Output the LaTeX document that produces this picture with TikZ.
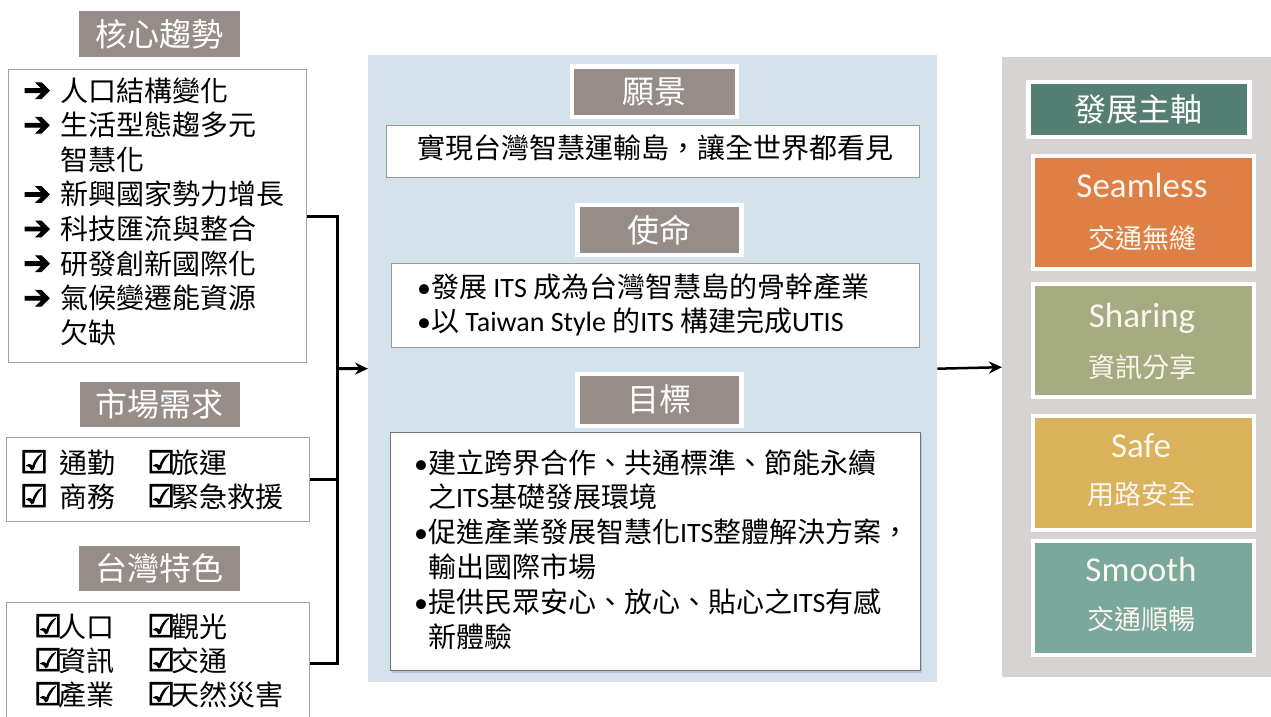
\documentclass[tikz,border=0pt]{standalone}
\usepackage{fontspec}
\setmainfont{Noto Sans CJK TC}
\newfontfamily\lat{Carlito}
\newfontfamily\symb{DejaVu Sans}[FakeBold=3]
\usetikzlibrary{arrows.meta,shadows}
\definecolor{ttlgray}{HTML}{968C88}
\definecolor{midbg}{HTML}{D4E2EC}
\definecolor{rightbg}{HTML}{D7D3D2}
\definecolor{framegray}{HTML}{A6A09E}
\definecolor{tealttl}{HTML}{567F74}
\definecolor{cseam}{HTML}{DE8045}
\definecolor{cshare}{HTML}{A5AC81}
\definecolor{csafe}{HTML}{D9B25B}
\definecolor{csmooth}{HTML}{7AA89B}
\definecolor{softwhite}{HTML}{FBF6EE}
\newcommand{\bodyfont}{\fontsize{28}{34.6}\selectfont}
\newcommand{\ttlfont}{\fontsize{32}{36}\selectfont}
\newcommand{\arr}{\makebox[37pt][l]{\symb\fontsize{33}{30}\selectfont ➔}}
\newcommand{\chk}[1]{\makebox[#1][l]{\symb\fontsize{31}{30}\selectfont ☑}}
\begin{document}
\begin{tikzpicture}[x=1pt,y=-1pt,
  frame/.style={rectangle, draw=framegray, line width=1.2pt, fill=white, inner sep=0pt, anchor=north west},
  ttl/.style={rectangle, fill=ttlgray, draw=white, line width=4.5pt, text=white, inner sep=0pt, anchor=north west, font=\ttlfont,
     drop shadow={shadow xshift=1pt, shadow yshift=-2pt, opacity=.25}},
  axisbox/.style={rectangle, draw=white, line width=4pt, inner sep=0pt, anchor=north west},
  body/.style={inner sep=0pt, font=\bodyfont, text=black},
  en/.style={inner sep=0pt, anchor=base, text=softwhite, font=\lat\fontsize{35}{40}\selectfont},
  zh/.style={inner sep=0pt, anchor=base, text=softwhite, font=\fontsize{27}{32}\selectfont},
  conn/.style={line width=3pt, black},
  tip/.style={-{Stealth[length=13pt,width=12pt]}}
]
\useasboundingbox (0,0) rectangle (1271,717);
\fill[white] (0,0) rectangle (1271,717);

% panels
\node[rectangle, fill=midbg, inner sep=0pt, anchor=north west, minimum width=569pt, minimum height=627pt] (mid) at (368,55) {};
\node[rectangle, fill=rightbg, inner sep=0pt, anchor=north west, minimum width=280pt, minimum height=620pt] (right) at (1002,57) {};

% left column
\node[ttl, minimum width=165pt, minimum height=51pt] (t1) at (74.5,6.5) {核心趨勢};
\node[frame, minimum width=298pt, minimum height=293pt] (b1) at (8,69) {};
\node[body, anchor=base west] (b1txt) at (23,101) {\begin{tabular}[t]{@{}l@{}l@{}}
\arr&人口結構變化\\
\arr&生活型態趨多元\\
&智慧化\\
\arr&新興國家勢力增長\\
\arr&科技匯流與整合\\
\arr&研發創新國際化\\
\arr&氣候變遷能資源\\
&欠缺
\end{tabular}};

\node[ttl, minimum width=164pt, minimum height=49pt] (t2) at (75.5,377.5) {市場需求};
\node[frame, minimum width=303pt, minimum height=84pt] (b2) at (6,437) {};
\node[body, anchor=base west, font=\fontsize{28}{34}\selectfont] (b2txt) at (20,473) {\begin{tabular}[t]{@{}p{127pt}@{}l@{}}
\chk{39pt}通勤&\chk{24pt}旅運\\
\chk{39pt}商務&\chk{24pt}緊急救援
\end{tabular}};

\node[ttl, minimum width=165pt, minimum height=49.5pt] (t3) at (74.5,541) {台灣特色};
\node[frame, minimum width=303pt, minimum height=122pt] (b3) at (6,602) {};
\node[body, anchor=base west, font=\fontsize{28}{34}\selectfont] (b3txt) at (34,637) {\begin{tabular}[t]{@{}p{113pt}@{}l@{}}
\chk{24pt}人口&\chk{24pt}觀光\\
\chk{24pt}資訊&\chk{24pt}交通\\
\chk{24pt}產業&\chk{24pt}天然災害
\end{tabular}};

% middle column
\node[ttl, minimum width=165pt, minimum height=50pt] (t4) at (569.5,64.5) {願景};
\node[frame, draw=gray!80, minimum width=533pt, minimum height=52pt] (vis) at (386,125) {};
\node[body, anchor=base] (vistxt) at (655,158) {實現台灣智慧運輸島，讓全世界都看見};

\node[ttl, minimum width=164pt, minimum height=50pt] (t5) at (575,202.5) {使命};
\node[frame, draw=gray!80, minimum width=528pt, minimum height=84pt] (mis) at (391,263) {};
\node[body, anchor=base west] (mistxt) at (417,297) {\begin{tabular}[t]{@{}l@{}l@{}}
{\lat •}&發展 {\lat ITS} 成為台灣智慧島的骨幹產業\\
{\lat •}&以 {\lat Taiwan Style} 的{\lat ITS} 構建完成{\lat UTIS}
\end{tabular}};

\node[ttl, minimum width=164pt, minimum height=52pt] (t6) at (575,371.5) {目標};
\node[frame, draw=gray!90!black, minimum width=530pt, minimum height=238pt,
  drop shadow={shadow xshift=1.5pt, shadow yshift=-2.5pt, opacity=.3}] (goa) at (390,432) {};
\node[body, anchor=base west, font=\fontsize{28}{34.8}\selectfont] (goatxt) at (414,473) {\begin{tabular}[t]{@{}l@{}l@{}}
{\lat •}&建立跨界合作、共通標準、節能永續\\
&之{\lat ITS}基礎發展環境\\
{\lat •}&促進產業發展智慧化{\lat ITS}整體解決方案，\\
&輸出國際市場\\
{\lat •}&提供民眾安心、放心、貼心之{\lat ITS}有感\\
&新體驗
\end{tabular}};

% right column
\node[ttl, fill=tealttl, minimum width=221pt, minimum height=55pt] (t7) at (1026,79.5) {發展主軸};
\node[axisbox, fill=cseam, minimum width=221pt, minimum height=113pt] (seam) at (1031,154) {};
\node[en] (seamen) at (1142,197) {Seamless};
\node[zh] (seamzh) at (1142,248) {交通無縫};
\node[axisbox, fill=cshare, minimum width=221pt, minimum height=113pt] (share) at (1031,282) {};
\node[en] (shareen) at (1142,327) {Sharing};
\node[zh] (sharezh) at (1142,377) {資訊分享};
\node[axisbox, fill=csafe, minimum width=221pt, minimum height=114pt,
  drop shadow={shadow xshift=1pt, shadow yshift=-2pt, opacity=.3}] (safe) at (1030.5,413.5) {};
\node[en] (safeen) at (1141,457) {Safe};
\node[zh] (safezh) at (1141,504) {用路安全};
\node[axisbox, fill=csmooth, minimum width=221pt, minimum height=114pt] (smooth) at (1031,539) {};
\node[en] (smoothen) at (1141,581) {Smooth};
\node[zh] (smoothzh) at (1141,629) {交通順暢};

% connectors
\coordinate (jx) at (337,368.5);
\draw[conn] (b1.east) -| (jx) |- (b3.east);
\draw[conn] (b2.east) -- (b2.east -| jx);
\draw[conn, tip] (jx) -- (mid.west);
\draw[conn, line width=2.5pt, tip] (mid.east) -- (right.west);
\end{tikzpicture}
\end{document}
